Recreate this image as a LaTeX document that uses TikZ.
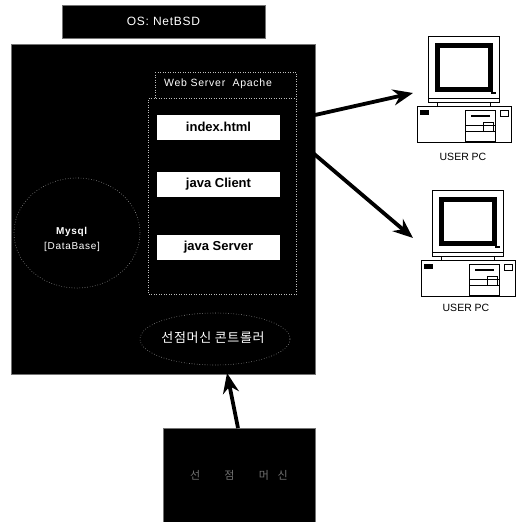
\documentclass[tikz,border=0pt]{standalone}
\usepackage{fontspec}
\setmainfont{Liberation Sans}
\newfontfamily\krfont{Noto Sans CJK KR}
\usetikzlibrary{arrows.meta,shapes.geometric}
\tikzset{
  userpc/.pic={
    \draw[line width=.9pt,fill=white] (0,0) rectangle (71,66);
    \draw[line width=5pt] (9.5,9.5) rectangle (62,53);
    \draw[line width=.9pt] (0,62) -- (71,62);
    \fill (63,56) rectangle (68,58);
    \draw[line width=.9pt] (9,66) -- (9,70) (62,66) -- (62,70);
    \draw[line width=1pt,fill=white] (-11,70) rectangle (83,106);
    \fill (-8,74) rectangle (1,79);
    \draw[line width=.9pt] (72,74) rectangle (80,80);
    \draw[line width=1pt] (37,74) rectangle (67,105);
    \fill (43,79) rectangle (62,81);
    \draw[line width=.8pt] (37,89) -- (67,89) (37,95) -- (67,95);
    \draw[line width=.9pt] (55,86) rectangle (65,95);
  }
}
\begin{document}
\begin{tikzpicture}[x=1pt,y=-1pt,
  darkbox/.style={draw=black!55,fill=black,line width=.6pt,inner sep=0pt},
  filebox/.style={fill=white,minimum width=123pt,minimum height=25pt,inner sep=0pt,font=\fontsize{13}{15}\selectfont\bfseries},
  lighttext/.style={text=white,inner sep=0pt},
  dotline/.style={draw=black!25,line width=.5pt,dotted},
  dotoval/.style={draw=black!40,line width=.6pt,dotted,ellipse,inner sep=0pt},
  flow/.style={line width=3.8pt,-{Stealth[length=20pt,width=16pt]}},
  pclabel/.style={inner sep=0pt,font=\fontsize{10.5}{12}\selectfont}]
\useasboundingbox (0,0) rectangle (515,522);
\node[darkbox,minimum width=203pt,minimum height=33pt,text=white,font=\fontsize{12}{14}\selectfont\addfontfeatures{LetterSpace=6}] (osbox) at (163.5,21.5) {OS: NetBSD};
\node[darkbox,minimum width=304pt,minimum height=330pt] (mainbox) at (163,209) {};
% web server area
\draw[dotline] (155,72) -- (296,72) -- (296,294) -- (148,294) -- (148,98) -- (296,98);
\draw[dotline] (155,72) -- (155,98);
\node[lighttext,font=\fontsize{10.5}{12}\selectfont\addfontfeatures{LetterSpace=7}] (webtitle) at (218,84) {Web Server\ \ Apache};
\node[filebox] (indexbox) at (218.5,127) {index.html};
\node[filebox] (clientbox) at (218.5,184.5) {java Client};
\node[filebox] (serverbox) at (218.5,247.5) {java Server};
% database and controller
\node[dotoval,minimum width=126pt,minimum height=110pt] (dbshape) at (77,233) {};
\node[lighttext,align=center,font=\fontsize{10}{15}\selectfont\addfontfeatures{LetterSpace=7}] (dbtext) at (72,239.5) {\textbf{Mysql}\\{[}DataBase{]}};
\node[dotoval,minimum width=150pt,minimum height=52pt] (ctrlshape) at (215,339) {};
\node[lighttext,font=\fontsize{13}{15}\selectfont\krfont\addfontfeatures{LetterSpace=5}] (ctrltext) at (213,338) {선점머신 콘트롤러};
\node[darkbox,minimum width=152pt,minimum height=94pt,text=black!55,font=\fontsize{11}{13}\selectfont\krfont] (machinebox) at (239,475) {선\hspace{2.2em}점\hspace{2.2em}머\hspace{.8em}신};
% the two user machines
\pic at (428,36) {userpc};
\pic at (432,190) {userpc};
\node[pclabel] (pctexta) at (463,157) {USER PC};
\node[pclabel] (pctextb) at (466,308) {USER PC};
\coordinate (outa) at (315,115);
\coordinate (ina) at (413,93);
\coordinate (outb) at (313,153);
\coordinate (inb) at (413,238);
\coordinate (feedout) at (238,428);
\coordinate (feedin) at (227,373);
\draw[flow] (outa) -- (ina);
\draw[flow] (outb) -- (inb);
\draw[flow] (feedout) -- (feedin);
\end{tikzpicture}
\end{document}
